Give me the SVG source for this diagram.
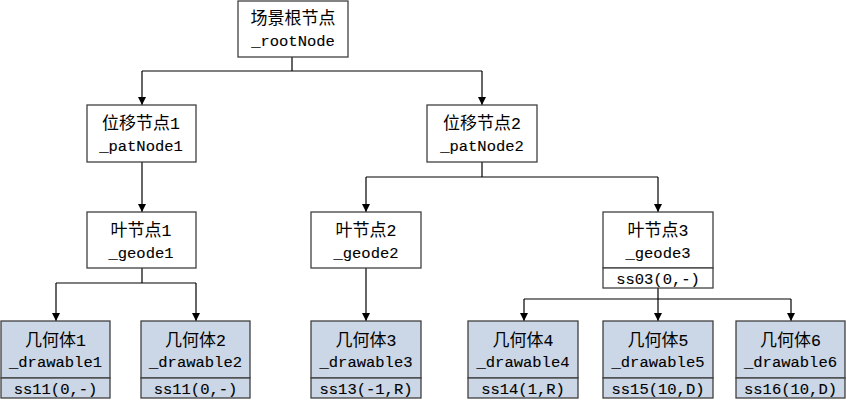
<svg xmlns="http://www.w3.org/2000/svg" width="846" height="400" viewBox="0 0 846 400">
<defs>
<marker id="arr" viewBox="0 0 10 10" refX="10" refY="5" markerWidth="8" markerHeight="8" markerUnits="userSpaceOnUse" orient="auto">
<path d="M0,0 L10,5 L0,10 z" fill="#000"/>
</marker>
<style>
.box{fill:#fff;stroke:#404040;stroke-width:1.3}
.dbox{fill:#cbd7e6;stroke:#404040;stroke-width:1.3}
.t{font-family:"Liberation Mono","Noto Sans CJK SC",monospace;font-size:15.5px;fill:#000;stroke:#000;stroke-width:0.12;text-anchor:middle}
.c{font-size:17px;stroke-width:0}
.d{font-size:16.5px}
.ln{fill:none;stroke:#000;stroke-width:1.2}
.la{fill:none;stroke:#000;stroke-width:1.2;marker-end:url(#arr)}
</style>
</defs>
<rect width="846" height="400" fill="#fff"/>
<g id="connectors">
<path class="ln" d="M292,57 V71 M142,71 H482"/>
<path class="la" d="M142,71 V105"/>
<path class="la" d="M482,71 V105"/>
<path class="la" d="M142,162 V212"/>
<path class="ln" d="M482,162 V177 M366,177 H658"/>
<path class="la" d="M366,177 V212"/>
<path class="la" d="M658,177 V212"/>
<path class="ln" d="M142,268 V283 M56,283 H196"/>
<path class="la" d="M56,283 V321"/>
<path class="la" d="M196,283 V321"/>
<path class="la" d="M366,268 V321"/>
<path class="ln" d="M658,288 V299 M524,299 H791"/>
<path class="la" d="M524,299 V321"/>
<path class="la" d="M658,299 V321"/>
<path class="la" d="M791,299 V321"/>
</g>
<g id="root">
<rect class="box" x="238" y="1" width="110" height="56"/>
<text class="t" x="293" y="24"><tspan class="c">场景根节点</tspan></text>
<text class="t" x="293" y="46">_rootNode</text>
</g>
<g id="patNode1">
<rect class="box" x="87" y="105" width="109" height="57"/>
<text class="t" x="141" y="129"><tspan class="c">位移节点</tspan><tspan class="d">1</tspan></text>
<text class="t" x="141" y="151">_patNode1</text>
</g>
<g id="patNode2">
<rect class="box" x="427" y="105" width="110" height="57"/>
<text class="t" x="482" y="129"><tspan class="c">位移节点</tspan><tspan class="d">2</tspan></text>
<text class="t" x="482" y="151">_patNode2</text>
</g>
<g id="geode1">
<rect class="box" x="87" y="212" width="109" height="56"/>
<text class="t" x="141" y="236"><tspan class="c">叶节点</tspan><tspan class="d">1</tspan></text>
<text class="t" x="141" y="258">_geode1</text>
</g>
<g id="geode2">
<rect class="box" x="311" y="212" width="110" height="56"/>
<text class="t" x="366" y="236"><tspan class="c">叶节点</tspan><tspan class="d">2</tspan></text>
<text class="t" x="366" y="258">_geode2</text>
</g>
<g id="geode3">
<rect class="box" x="603" y="212" width="110" height="56"/>
<rect class="box" x="603" y="268" width="110" height="20"/>
<text class="t" x="658" y="236"><tspan class="c">叶节点</tspan><tspan class="d">3</tspan></text>
<text class="t" x="658" y="258">_geode3</text>
<text class="t" x="658" y="284">ss03(0,-)</text>
</g>
<g id="drawable1">
<rect class="dbox" x="1" y="321" width="109" height="57"/>
<rect class="dbox" x="1" y="378" width="109" height="20"/>
<text class="t" x="55.5" y="346"><tspan class="c">几何体</tspan><tspan class="d">1</tspan></text>
<text class="t" x="55.5" y="367">_drawable1</text>
<text class="t" x="55.5" y="394">ss11(0,-)</text>
</g>
<g id="drawable2">
<rect class="dbox" x="141" y="321" width="109" height="57"/>
<rect class="dbox" x="141" y="378" width="109" height="20"/>
<text class="t" x="195.5" y="346"><tspan class="c">几何体</tspan><tspan class="d">2</tspan></text>
<text class="t" x="195.5" y="367">_drawable2</text>
<text class="t" x="195.5" y="394">ss11(0,-)</text>
</g>
<g id="drawable3">
<rect class="dbox" x="311" y="321" width="110" height="57"/>
<rect class="dbox" x="311" y="378" width="110" height="20"/>
<text class="t" x="366" y="346"><tspan class="c">几何体</tspan><tspan class="d">3</tspan></text>
<text class="t" x="366" y="367">_drawable3</text>
<text class="t" x="366" y="394">ss13(-1,R)</text>
</g>
<g id="drawable4">
<rect class="dbox" x="468" y="321" width="110" height="57"/>
<rect class="dbox" x="468" y="378" width="110" height="20"/>
<text class="t" x="523" y="346"><tspan class="c">几何体</tspan><tspan class="d">4</tspan></text>
<text class="t" x="523" y="367">_drawable4</text>
<text class="t" x="523" y="394">ss14(1,R)</text>
</g>
<g id="drawable5">
<rect class="dbox" x="603" y="321" width="110" height="57"/>
<rect class="dbox" x="603" y="378" width="110" height="20"/>
<text class="t" x="658" y="346"><tspan class="c">几何体</tspan><tspan class="d">5</tspan></text>
<text class="t" x="658" y="367">_drawable5</text>
<text class="t" x="658" y="394">ss15(10,D)</text>
</g>
<g id="drawable6">
<rect class="dbox" x="736" y="321" width="109" height="57"/>
<rect class="dbox" x="736" y="378" width="109" height="20"/>
<text class="t" x="790.5" y="346"><tspan class="c">几何体</tspan><tspan class="d">6</tspan></text>
<text class="t" x="790.5" y="367">_drawable6</text>
<text class="t" x="790.5" y="394">ss16(10,D)</text>
</g>
</svg>
